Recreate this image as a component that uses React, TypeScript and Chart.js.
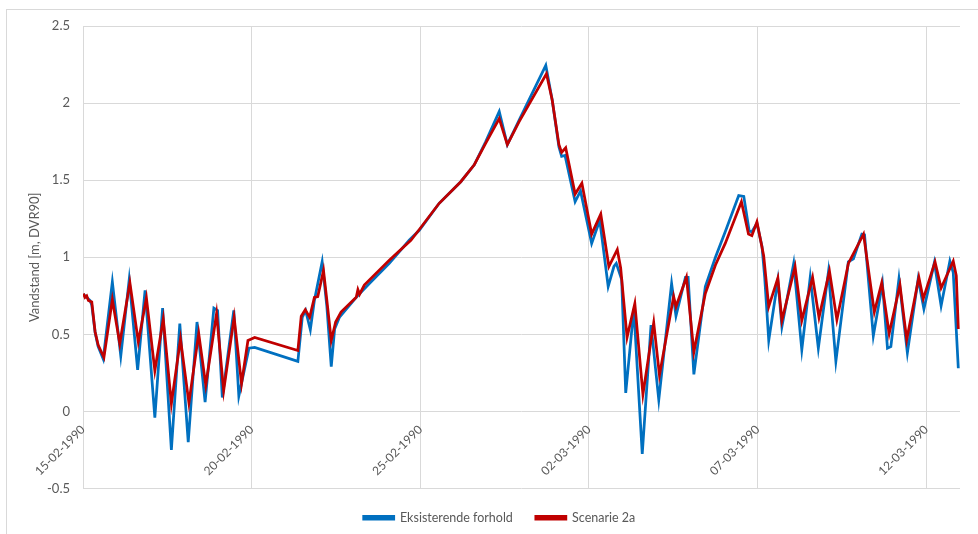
import React, { useEffect, useRef } from "react";
import { Chart, registerables } from "chart.js";

Chart.register(...registerables);

// Time axis: days since 15-02-1990 00:00
const tickDays = [0, 5, 10, 15, 20, 25];
const tickLabels = ["15-02-1990", "20-02-1990", "25-02-1990", "02-03-1990", "07-03-1990", "12-03-1990"];

const existingDays = [
  0.01, 0.21, 0.26, 0.36, 0.45, 0.6, 0.87, 1.12, 1.37, 1.62, 1.84, 2.13, 2.36, 2.62, 2.87, 3.12, 3.38, 3.62,
  3.88, 3.99, 4.13, 4.47, 4.62, 4.92, 5.09, 6.37, 6.5, 6.6, 6.74, 6.86, 7.09, 7.23, 7.36, 7.46, 7.6, 8.1,
  8.49, 9.08, 9.67, 9.97, 10.56, 11.2, 11.6, 11.94, 12.34, 12.58, 12.93, 13.72, 13.91, 14.11, 14.19, 14.29,
  14.59, 14.75, 15.08, 15.32, 15.57, 15.74, 15.81, 15.97, 16.09, 16.33, 16.58, 16.84, 17.07, 17.45, 17.58,
  17.86, 17.94, 18.11, 18.45, 18.75, 19.04, 19.44, 19.59, 19.75, 19.83, 19.98, 20.13, 20.21, 20.33, 20.6,
  20.72, 21.07, 21.31, 21.56, 21.8, 22.1, 22.32, 22.69, 22.84, 23.09, 23.17, 23.43, 23.7, 23.85, 23.95,
  24.19, 24.44, 24.76, 24.93, 25.24, 25.44, 25.7, 25.8, 25.95,
];
const existingLevels = [
  0.76, 0.72, 0.69, 0.51, 0.42, 0.34, 0.84, 0.36, 0.855, 0.27, 0.785, -0.04, 0.67, -0.25, 0.57, -0.2, 0.58, 0.06,
  0.67, 0.655, 0.09, 0.655, 0.1, 0.41, 0.415, 0.325, 0.61, 0.655, 0.53, 0.72, 0.97, 0.68, 0.29, 0.535, 0.61, 0.74,
  0.83, 0.96, 1.11, 1.175, 1.35, 1.49, 1.6, 1.75, 1.945, 1.73, 1.89, 2.245, 2.02, 1.715, 1.655, 1.66,
  1.36, 1.43, 1.09, 1.24, 0.81, 0.94, 0.96, 0.855, 0.12, 0.665, -0.275, 0.56, 0.075, 0.83, 0.62,
  0.87, 0.87, 0.24, 0.81, 1.0, 1.165, 1.4, 1.395, 1.17, 1.165, 1.22, 1.07, 0.87, 0.46, 0.85,
  0.55, 0.96, 0.4, 0.87, 0.41, 0.905, 0.325, 0.97, 0.99, 1.15, 1.145, 0.49, 0.83, 0.41, 0.42,
  0.86, 0.38, 0.86, 0.665, 0.965, 0.685, 0.975, 0.9, 0.28,
];

const scenarioDays = [
  0.01, 0.06, 0.11, 0.16, 0.26, 0.36, 0.45, 0.62, 0.87, 1.09, 1.39, 1.64, 1.88, 2.13, 2.38, 2.62, 2.89, 3.14,
  3.43, 3.64, 3.96, 4.17, 4.48, 4.7, 4.89, 4.99, 5.09, 6.37, 6.47, 6.59, 6.72, 6.86, 6.96, 7.13, 7.23, 7.36,
  7.49, 7.65, 8.1, 8.15, 8.2, 8.34, 9.08, 9.72, 9.97, 10.56, 11.2, 11.6, 11.94, 12.34, 12.58, 12.93, 13.74,
  13.91, 14.11, 14.19, 14.31, 14.59, 14.79, 15.08, 15.35, 15.59, 15.84, 15.94, 16.13, 16.36, 16.6, 16.92,
  17.09, 17.51, 17.58, 17.89, 18.11, 18.45, 18.75, 19.04, 19.52, 19.73, 19.83, 19.98, 20.18, 20.33, 20.6,
  20.72, 21.11, 21.31, 21.63, 21.82, 22.13, 22.35, 22.6, 22.69, 23.14, 23.46, 23.68, 23.9, 24.22, 24.42,
  24.78, 24.91, 25.26, 25.44, 25.8, 25.89, 25.95,
];
const scenarioLevels = [
  0.765, 0.74, 0.75, 0.72, 0.71, 0.515, 0.43, 0.35, 0.725, 0.44, 0.835, 0.45, 0.735, 0.265, 0.6, 0.05, 0.47, 0.055,
  0.505, 0.17, 0.635, 0.135, 0.61, 0.18, 0.46, 0.47, 0.48, 0.395, 0.617, 0.66, 0.61, 0.74, 0.745, 0.915, 0.72, 0.46,
  0.58, 0.645, 0.74, 0.79, 0.76, 0.82, 0.98, 1.11, 1.18, 1.35, 1.49, 1.6, 1.74, 1.9, 1.73, 1.88, 2.19,
  2.02, 1.73, 1.68, 1.71, 1.41, 1.48, 1.15, 1.28, 0.94, 1.05, 0.93, 0.48, 0.7, 0.11, 0.575,
  0.235, 0.745, 0.68, 0.87, 0.385, 0.765, 0.95, 1.09, 1.36, 1.15, 1.14, 1.23, 1.01, 0.68, 0.865,
  0.59, 0.94, 0.59, 0.87, 0.61, 0.91, 0.595, 0.86, 0.96, 1.15, 0.645, 0.835, 0.505, 0.82, 0.465,
  0.87, 0.73, 0.97, 0.8, 0.975, 0.88, 0.535,
];

const FONT = "Lato, 'Open Sans', sans-serif";
const TEXT = "#595959";
const GRID = "#d9d9d9";
const BLUE = "#0070C0";
const RED = "#C00000";

const toPoints = (xs: number[], ys: number[]) => xs.map((x, i) => ({ x, y: ys[i] }));

export default function App() {
  const canvasRef = useRef<HTMLCanvasElement | null>(null);

  useEffect(() => {
    if (!canvasRef.current) return;
    const chart = new Chart(canvasRef.current, {
      type: "line",
      data: {
        datasets: [
          {
            label: "Eksisterende forhold",
            data: toPoints(existingDays, existingLevels),
            borderColor: BLUE,
            backgroundColor: BLUE,
            borderWidth: 2.75,
            pointRadius: 0,
            tension: 0,
            order: 1,
          },
          {
            label: "Scenarie 2a",
            data: toPoints(scenarioDays, scenarioLevels),
            borderColor: RED,
            backgroundColor: RED,
            borderWidth: 2.75,
            pointRadius: 0,
            tension: 0,
            order: 0,
          },
        ],
      },
      options: {
        responsive: false,
        animation: false,
        layout: { padding: { left: 32, right: 18, top: 16, bottom: 0 } },
        plugins: {
          tooltip: { enabled: false },
          legend: {
            position: "bottom",
            labels: {
              boxWidth: 30,
              boxHeight: 2.75,
              padding: 23,
              color: TEXT,
              font: { family: FONT, size: 12.5 },
              sort: (a: any, b: any) => a.datasetIndex - b.datasetIndex,
            },
          },
        },
        scales: {
          x: {
            type: "linear",
            min: 0,
            max: 26,
            position: { y: 0 } as any,
            afterBuildTicks: (scale: any) => {
              scale.ticks = tickDays.map((v) => ({ value: v }));
            },
            grid: { color: GRID, drawTicks: false, lineWidth: 1 },
            border: { display: false },
            ticks: {
              minRotation: 45,
              maxRotation: 45,
              padding: 11,
              color: TEXT,
              font: { family: FONT, size: 12 },
              callback: (value: any) => {
                const i = tickDays.indexOf(Number(value));
                return i >= 0 ? tickLabels[i] : "";
              },
            },
          },
          y: {
            min: -0.5,
            max: 2.5,
            afterFit: (scale: any) => {
              scale.width = 44;
            },
            grid: {
              color: GRID,
              lineWidth: 1,
              drawTicks: true,
              tickLength: 13,
              tickColor: "rgba(0,0,0,0)",
            },
            border: { display: false },
            ticks: {
              stepSize: 0.5,
              padding: 0,
              color: TEXT,
              font: { family: FONT, size: 13 },
              callback: (value: any) => String(Math.round(Number(value) * 10) / 10),
            },
            title: {
              display: true,
              text: "Vandstand [m, DVR90]",
              color: TEXT,
              font: { family: FONT, size: 13 },
              padding: { top: -12, bottom: 0 },
            },
          },
        },
      },
    });
    return () => chart.destroy();
  }, []);

  return (
    <div style={{ position: "fixed", left: 0, top: 0, width: 978, height: 534, background: "#fff", overflow: "hidden" }}>
      <div
        style={{
          position: "absolute",
          left: 6,
          top: 9,
          width: 972,
          height: 525,
          boxSizing: "border-box",
          borderLeft: `1px solid ${GRID}`,
          borderTop: `1px solid ${GRID}`,
        }}
      >
        <canvas ref={canvasRef} width={971} height={524} style={{ display: "block", width: 971, height: 524 }} />
      </div>
    </div>
  );
}
